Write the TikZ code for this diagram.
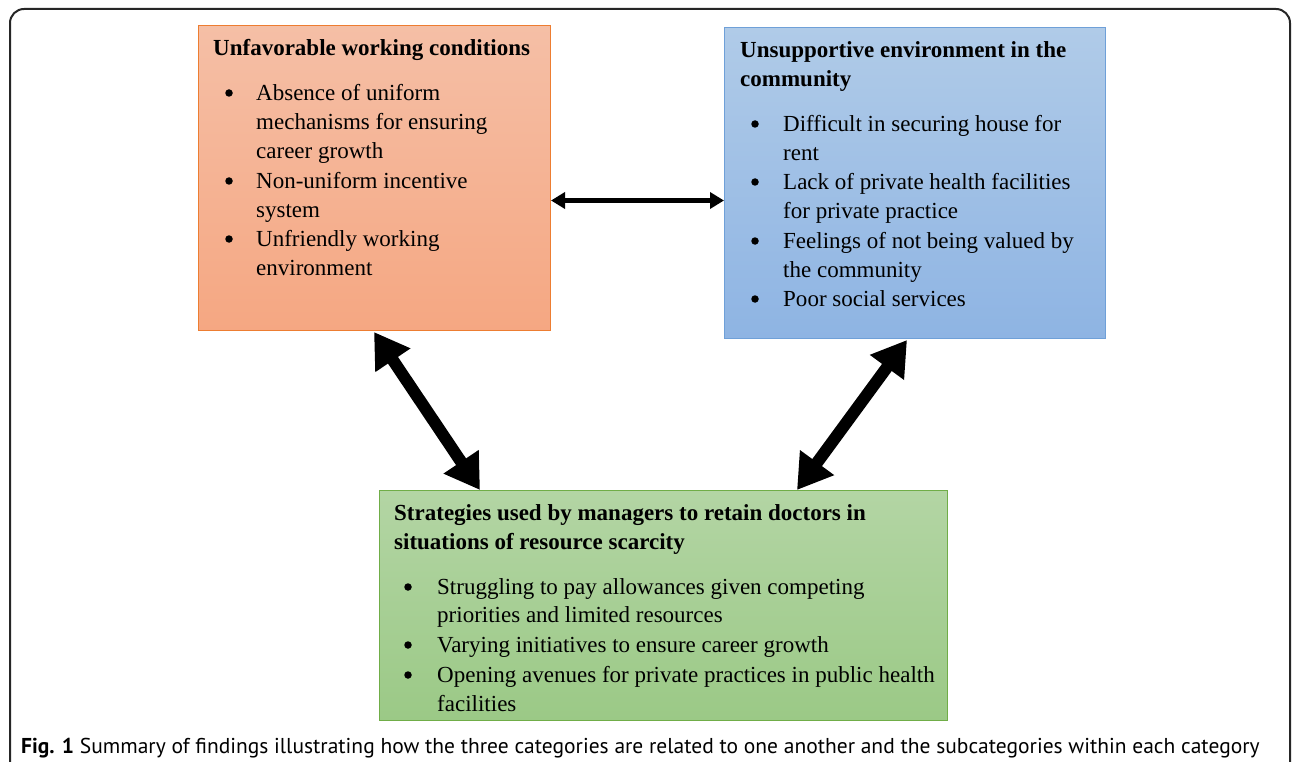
\documentclass[tikz,border=0pt]{standalone}
\usepackage{fontspec}
\setmainfont{Liberation Serif}
\newfontfamily\capfont{PT Sans}
\usetikzlibrary{arrows.meta}
\definecolor{orTop}{HTML}{F5BFA6}
\definecolor{orBot}{HTML}{F5A782}
\definecolor{orLine}{HTML}{ED7D31}
\definecolor{blTop}{HTML}{B0CBE8}
\definecolor{blBot}{HTML}{8EB4E3}
\definecolor{blLine}{HTML}{6FA0D8}
\definecolor{grTop}{HTML}{B3D5A4}
\definecolor{grBot}{HTML}{9BC986}
\definecolor{grLine}{HTML}{70AD47}
\tikzset{
  box/.style={rectangle, anchor=north west, inner sep=0pt, line width=1pt},
  ttl/.style={anchor=base west, inner sep=0pt, yshift=-1.5pt, font=\fontsize{23}{29}\selectfont\bfseries},
  txt/.style={anchor=base west, inner sep=0pt, yshift=-1.5pt, font=\fontsize{23}{29}\selectfont},
  bul/.style={circle, fill=black, inner sep=0pt, minimum size=7.5pt, yshift=6pt},
  thinarrow/.style={line width=4.5pt, {Triangle[length=14pt,width=16pt]}-{Triangle[length=14pt,width=16pt]}},
  bigarrow/.style={line width=12pt, {Triangle[length=34pt,width=40pt]}-{Triangle[length=34pt,width=40pt]}},
}
\begin{document}
\begin{tikzpicture}[x=1pt,y=-1pt]
\useasboundingbox (0,0) rectangle (1292,762);
\begin{scope}
\clip (0,0) rectangle (1292,762);
\draw[line width=2pt, color=black!85, rounded corners=14pt] (10,790) -- (10,9) -- (1290,9) -- (1290,790);
\end{scope}
% boxes
\node[box, draw=orLine, top color=orTop, bottom color=orBot, minimum width=352pt, minimum height=305pt] (orange) at (198,25) {};
\node[box, draw=blLine, top color=blTop, bottom color=blBot, minimum width=381pt, minimum height=311pt] (blue) at (724,27) {};
\node[box, draw=grLine, top color=grTop, bottom color=grBot, minimum width=568pt, minimum height=230pt] (green) at (379,490) {};
% orange text
\node[ttl] (o0) at (213,54) {Unfavorable working conditions};
\node[bul] (ob1) at (229,99) {};
\node[txt] (o1) at (256,99) {Absence of uniform};
\node[txt] (o2) at (256,128) {mechanisms for ensuring};
\node[txt] (o3) at (256,157) {career growth};
\node[bul] (ob2) at (229,187) {};
\node[txt] (o4) at (256,187) {Non-uniform incentive};
\node[txt] (o5) at (256,216) {system};
\node[bul] (ob3) at (229,245) {};
\node[txt] (o6) at (256,245) {Unfriendly working};
\node[txt] (o7) at (256,274) {environment};
% blue text
\node[ttl] (b0) at (740,56) {Unsupportive environment in the};
\node[ttl] (b00) at (740,85) {community};
\node[bul] (bb1) at (755,130) {};
\node[txt] (b1) at (783,130) {Difficult in securing house for};
\node[txt] (b2) at (783,159) {rent};
\node[bul] (bb2) at (755,188) {};
\node[txt] (b3) at (783,188) {Lack of private health facilities};
\node[txt] (b4) at (783,217) {for private practice};
\node[bul] (bb3) at (755,247) {};
\node[txt] (b5) at (783,247) {Feelings of not being valued by};
\node[txt] (b6) at (783,276) {the community};
\node[bul] (bb4) at (755,305) {};
\node[txt] (b7) at (783,305) {Poor social services};
% green text
\node[ttl] (g0) at (394,519) {Strategies used by managers to retain doctors in};
\node[ttl] (g00) at (394,548) {situations of resource scarcity};
\node[bul] (gb1) at (408,593) {};
\node[txt] (g1) at (437,593) {Struggling to pay allowances given competing};
\node[txt] (g2) at (437,621) {priorities and limited resources};
\node[bul] (gb2) at (408,651) {};
\node[txt] (g3) at (437,651) {Varying initiatives to ensure career growth};
\node[bul] (gb3) at (408,681) {};
\node[txt] (g4) at (437,681) {Opening avenues for private practices in public health};
\node[txt] (g5) at (437,710) {facilities};
% arrows
\draw[thinarrow] ([yshift=-22.5pt]orange.east) -- ([yshift=-22.5pt]orange.east -| blue.west);
\draw[bigarrow] ([xshift=176pt,yshift=-1pt]orange.south west) -- ([xshift=101pt]green.north west);
\draw[bigarrow] ([xshift=183pt,yshift=-1pt]blue.south west) -- ([xshift=418pt]green.north west);
% caption
\node[anchor=base west, inner sep=0pt, font=\capfont\fontsize{21.5}{25}\selectfont] (cap) at (21,753) {\textbf{Fig. 1} Summary of findings illustrating how the three categories are related to one another and the subcategories within each category};
\end{tikzpicture}
\end{document}
